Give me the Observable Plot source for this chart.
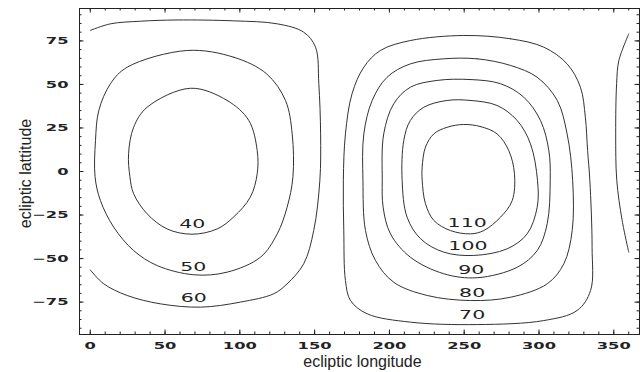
<!DOCTYPE html>
<html><head><meta charset="utf-8">
<script src="https://cdn.jsdelivr.net/npm/d3@7"></script>
<script src="https://cdn.jsdelivr.net/npm/@observablehq/plot@0.6"></script>
<style>body{margin:0;background:#fff}#chart svg{display:block;background:#fff}</style>
</head><body><div id="chart"></div>
<script>
// contour lines: [ecliptic longitude, ecliptic latitude]
const c40 = [[67,47.8],[91.5,40.8],[106,29.3],[111.6,12],[111.6,-1.3],[107,-14.7],[96,-26],[84.8,-33],[68,-36],[51.4,-33],[38,-24.3],[29,-12.8],[26.5,-3],[25.6,10.2],[29,25.4],[38,36.9]];
const c50 = [[64.8,69.5],[96,65.6],[118,56],[130.5,40.8],[135,21.6],[135.5,-3],[131.6,-20.5],[125,-35.8],[113.8,-49.2],[91.5,-57.8],[69.2,-59.3],[44.7,-54],[29,-45.4],[15.7,-32],[6.8,-16.7],[3.2,-3],[3.5,17.8],[5.7,35],[13.5,50.4],[24.7,59.9]];
const c60a = [[0,81],[13.5,84.8],[33.6,86.3],[58,87],[96,86.5],[125,84.8],[142.7,80],[150.6,71.4],[152.8,50.4],[154,21.6],[153.5,-5],[149.4,-33.9],[142.7,-53],[131.6,-64.5],[122.7,-70.2],[100.4,-75],[73.7,-77.9],[46.9,-76],[24.7,-71.2],[9,-64.5],[0,-56.5]];
const c60b = [[360,79],[353.4,63.7],[351.9,50.4],[351.3,21.6],[352,-5],[355.6,-28.1],[360,-46.3]];
const c70 = [[249.7,78.1],[281,76.2],[303.2,71.4],[318.8,61.8],[327.7,48.4],[331,31.2],[332.5,12],[334,-5],[335.5,-43.5],[334.5,-68.3],[325.5,-79.8],[303.2,-85.6],[258.7,-87.9],[214,-86.5],[185.1,-81.7],[174,-74.1],[170.6,-62.6],[169.5,-33.9],[169.2,-5],[170.6,21.6],[175,44.6],[182.9,59.9],[194,69.5],[214,75.2]];
const c80 = [[236.3,64.7],[258.7,64.7],[281,60.9],[298.8,54.1],[312.2,40.8],[318.8,21.6],[322.5,-5],[322.2,-33.9],[316.6,-53],[305.5,-64.5],[281,-72.2],[254.2,-74.1],[225.3,-71.2],[202.9,-63.6],[190.7,-51.1],[184,-33.9],[182.3,-5],[182.9,21.6],[188.5,40.8],[198.4,54.1],[214,61.8]];
const c90 = [[231.9,52.3],[254.2,52.8],[274.3,50.4],[289.8,42.7],[301,29.3],[306.6,12],[307.5,-5],[305.5,-30],[298.8,-45.4],[285.4,-55],[258.7,-61],[236.3,-58.7],[214,-49.2],[200.7,-35.8],[195.8,-20.5],[195.2,-5],[196.2,21.6],[202.9,38.9],[214,48.4]];
const c100 = [[238.6,40.8],[254.2,40.8],[272,37.9],[285.4,29.3],[294.3,15.9],[299,-5],[298.8,-20.5],[292.1,-35.8],[278.7,-44.4],[256.4,-48.2],[236.3,-46.3],[220.8,-38.6],[211.8,-26.2],[208.5,-5],[209.6,17.8],[214,29.3],[223,36.9]];
const c110 = [[249.7,27],[260.9,25.8],[272,21.6],[279.8,12],[283.6,-1.3],[282.1,-16.7],[274.3,-26.2],[263.1,-33.9],[254.2,-35.8],[240.8,-33.9],[229.7,-28.1],[224.1,-18.5],[221.9,-5],[221.9,2.5],[224.1,14],[229.7,21.6],[238.6,25.4]];

const closedContours = [c40, c50, c70, c80, c90, c100, c110];
const openContours = [c60a, c60b];

// contour labels
const labelText = ["40","50","60","70","80","90","100","110"];
const labelLon  = [68.2, 68.8, 69.2, 255.3, 255.3, 254.7, 252.5, 252];
const labelLat  = [-30.4, -55, -73.1, -82.7, -69.9, -56.5, -42.8, -29.6];

// axis ticks
const xTicks = [0,50,100,150,200,250,300,350];
const yTicks = [-75,-50,-25,0,25,50,75];
const xMinorTicks = d3.range(0, 361, 10);
const yMinorTicks = d3.range(-90, 91, 5);

const W = 643, H = 372, mL = 79, mR = 4, mT = 8, mB = 38;
const fw = W - mL - mR, fh = H - mT - mB;
const labels = labelText.map((t, i) => ({t, lon: labelLon[i], lat: labelLat[i]}));
const lineStyle = {x: d => d[0], y: d => d[1], stroke: "#333", strokeWidth: 1};
const tk = {stroke: "#222", strokeWidth: 1};

const plot = Plot.plot({
  width: W, height: H,
  marginLeft: mL, marginRight: mR, marginTop: mT, marginBottom: mB,
  x: {domain: [-7.2, 367.2]},
  y: {domain: [-93.6, 93.6]},
  style: {background: "#fff"},
  marks: [
    ...closedContours.map(c => Plot.line(c, {...lineStyle, curve: "catmull-rom-closed"})),
    ...openContours.map(c => Plot.line(c, {...lineStyle, curve: "catmull-rom"})),
    Plot.text(labels, {x: "lon", y: "lat", text: "t", fontFamily: "DejaVu Sans", fontSize: 11.4, fill: "#222"}),
    // frame ticks (inside)
    Plot.tickX(xMinorTicks, {x: d => d, insetTop: fh - 2.5, ...tk}),
    Plot.tickX(xMinorTicks, {x: d => d, insetBottom: fh - 2.5, ...tk}),
    Plot.tickX(xTicks, {x: d => d, insetTop: fh - 4.5, ...tk}),
    Plot.tickX(xTicks, {x: d => d, insetBottom: fh - 4.5, ...tk}),
    Plot.tickY(yMinorTicks, {y: d => d, insetRight: fw - 2.5, ...tk}),
    Plot.tickY(yMinorTicks, {y: d => d, insetLeft: fw - 2.5, ...tk}),
    Plot.tickY(yTicks, {y: d => d, insetRight: fw - 4.5, ...tk}),
    Plot.tickY(yTicks, {y: d => d, insetLeft: fw - 4.5, ...tk}),
    Plot.frame({stroke: "#222", strokeWidth: 1}),
    Plot.axisX(xTicks, {anchor: "bottom", tickSize: 0, tickPadding: 8, label: null,
      fontFamily: "DejaVu Sans", fontWeight: "bold", fontSize: 9.6, fill: "#222"}),
    Plot.axisY(yTicks, {anchor: "left", tickSize: 0, tickPadding: 11, label: null,
      fontFamily: "DejaVu Sans", fontWeight: "bold", fontSize: 9.6, fill: "#222"}),
    Plot.text(["ecliptic longitude"], {text: d => d, frameAnchor: "bottom", lineAnchor: "middle", textAnchor: "middle",
      dx: 3, dy: 27, fontFamily: "Liberation Sans", fontSize: 16, fill: "#222"}),
    Plot.text(["ecliptic lattitude"], {text: d => d, frameAnchor: "left", lineAnchor: "middle", textAnchor: "middle",
      dx: -54, dy: 2, rotate: -90, fontFamily: "Liberation Sans", fontSize: 16, fill: "#222"})
  ]
});

function stretch(el, s) {
  const t = el.getAttribute("transform") || "";
  el.setAttribute("transform", t + ` scale(${s},1)`);
}
plot.querySelectorAll("g[aria-label='x-axis tick label'] text, g[aria-label='y-axis tick label'] text")
  .forEach(el => stretch(el, 1.7));
plot.querySelectorAll("g[aria-label='text'] text").forEach(el => {
  if (/^\d+$/.test(el.textContent.trim())) stretch(el, 1.8);
});
document.getElementById("chart").appendChild(plot);
</script>
</body></html>
